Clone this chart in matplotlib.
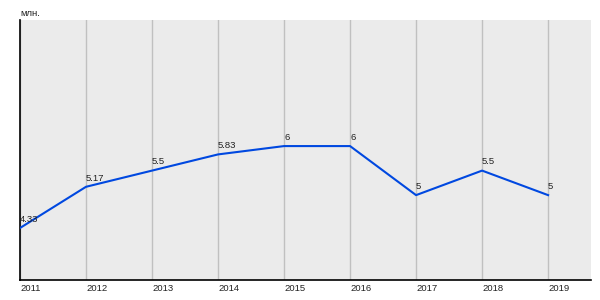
import matplotlib
matplotlib.use("Agg")
import matplotlib.pyplot as plt

years = [2011, 2012, 2013, 2014, 2015, 2016, 2017, 2018, 2019]
values = [4.33, 5.17, 5.5, 5.83, 6, 6, 5, 5.5, 5]
labels = ["4.33", "5.17", "5.5", "5.83", "6", "6", "5", "5.5", "5"]

plt.rcParams["font.family"] = ["Liberation Sans", "DejaVu Sans"]

fig = plt.figure(figsize=(6, 3), dpi=100)
ax = fig.add_axes([20 / 600, 20 / 300, 571 / 600, 260 / 300])
ax.set_facecolor("#ebebeb")

ax.plot(years, values, color="#0048e0", lw=1.5, zorder=3)

# value labels, left-aligned just above each point
for x, y, s in zip(years, values, labels):
    ax.annotate(s, (x, y), textcoords="offset points", xytext=(0, 3),
                ha="left", va="bottom", fontsize=6.8, color="#222222")

ax.set_xlim(2011, 2019.65)
ax.set_ylim(3.27, 8.57)
ax.set_xticks(years)
ax.set_xticklabels([str(y) for y in years], ha="left", fontsize=6.8, color="#222222")
ax.set_yticks([])
ax.tick_params(axis="x", length=0, pad=3)
ax.grid(axis="x", color="#c0c0c0", lw=1)
ax.set_axisbelow(True)

for side in ["top", "right"]:
    ax.spines[side].set_visible(False)
ax.spines["left"].set_color("black")
ax.spines["bottom"].set_color("black")
ax.spines["left"].set_linewidth(1.2)
ax.spines["bottom"].set_linewidth(1.2)

fig.text(20 / 600, 1 - 13 / 300, "млн.", fontsize=6.8, va="center", ha="left", color="#222222")

fig.savefig("out.png", dpi=100)
